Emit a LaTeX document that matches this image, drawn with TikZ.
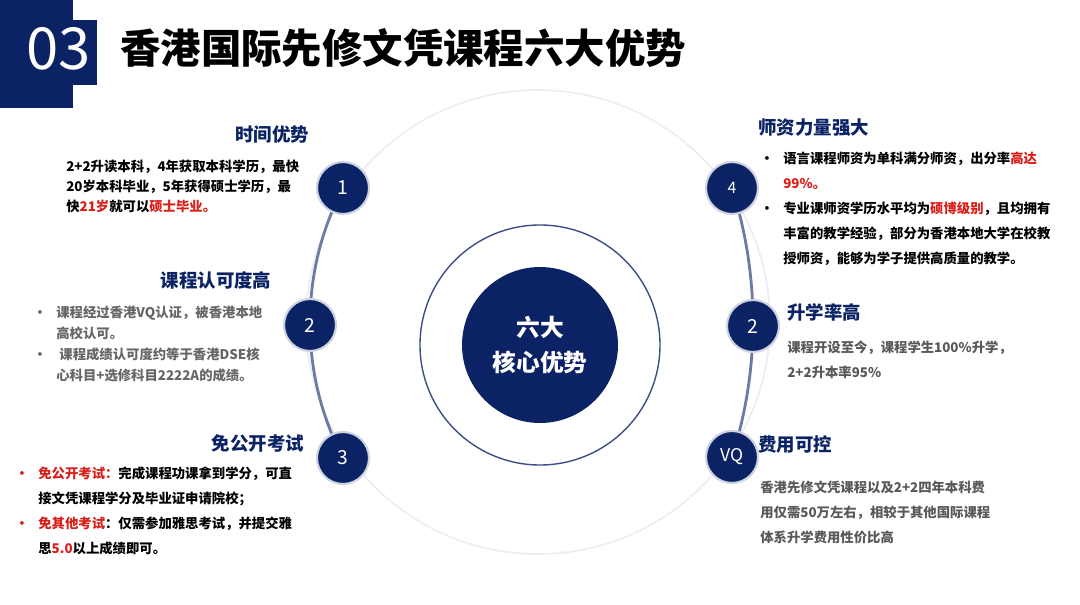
\documentclass[tikz,border=0pt]{standalone}
\usepackage{fontspec}
\setmainfont{Noto Sans CJK SC}
\usepackage{xcolor}
\usetikzlibrary{positioning, calc}
\definecolor{navy}{HTML}{0B2265}
\definecolor{hired}{HTML}{D91E18}
\definecolor{arcgray}{HTML}{ECEEF4}
\tikzstyle{numdot} = [circle, minimum size=1.04cm, inner sep=0pt, fill=navy, text=white, font=\fontsize{11}{13}\selectfont, draw=navy!20, line width=1.2pt]
\tikzstyle{head} = [inner sep=0pt, text=navy, font=\fontsize{10.5}{12}\selectfont\bfseries]
\tikzstyle{body} = [inner sep=0pt, align=left, anchor=north west, font=\fontsize{7.6}{14.2}\selectfont]
\newcommand{\hl}[1]{\textcolor{hired}{#1}}
\newcommand{\bul}[1]{\makebox[0.46cm][l]{#1}}

\begin{document}
\begin{tikzpicture}[x=0.02cm, y=-0.02cm]
\useasboundingbox (0,0) rectangle (1080,605);
% header
\fill[navy] (0,0) rectangle (73,108);
\fill[navy] (73,20) rectangle (97,85);
\node (num) [text=white, font=\fontsize{33}{35}\selectfont] at (59,49) {03};
\node (title) [anchor=west, font=\fontsize{23}{26}\selectfont\bfseries] at (114,48) {香港国际先修文凭课程六大优势};

% number dot positions
\coordinate (c1) at (343,188);
\coordinate (c2) at (310,325);
\coordinate (c3) at (343,458);
\coordinate (c4) at (732,188);
\coordinate (c5) at (753,326);
\coordinate (c6) at (732,457);
\coordinate (ctr) at (540,345);

% rings
\draw[arcgray, line width=1pt] (538,322) circle (232);
\draw[navy!60, line width=1.6pt] (c1) arc[start angle=207.5, end angle=152.5, radius=292.6];
\draw[navy!60, line width=1.6pt] (c4) arc[start angle=-17.76, end angle=17.76, radius=441];
\draw[navy!80, line width=0.8pt] (ctr) circle (120);
\node (core) [circle, fill=navy, minimum size=3.12cm, text=white, align=center, font=\fontsize{13.5}{20}\selectfont\bfseries] at (ctr) {六大\\核心优势};

\node (n1) [numdot] at (c1) {1};
\node (n2) [numdot] at (c2) {2};
\node (n3) [numdot] at (c3) {3};
\node (n4) [numdot, font=\fontsize{9}{11}\selectfont] at (c4) {4};
\node (n5) [numdot] at (c5) {2};
\node (n6) [numdot, font=\fontsize{10}{12}\selectfont] at (c6) {VQ};

% left side
\node (h1) [head] at (272,135) {时间优势};
\node (t1) [body, font=\fontsize{7.6}{11.4}\selectfont\bfseries] at (66,160) {2+2升读本科，4年获取本科学历，最快\\20岁本科毕业，5年获得硕士学历，最\\快\hl{21岁}就可以\hl{硕士毕业。}};
\node (h2) [head] at (216,280) {课程认可度高};
\node (t2) [body, text=black!60, font=\fontsize{7.6}{11.9}\selectfont\bfseries] at (33,306) {\bul{·}课程经过香港VQ认证，被香港本地\\\bul{}高校认可。\\\bul{·} 课程成绩认可度约等于香港DSE核\\\bul{}心科目+选修科目2222A的成绩。};
\node (h3) [head] at (258,443) {免公开考试};
\node (t3) [body, font=\fontsize{7.6}{14.2}\selectfont\bfseries] at (15,467) {\bul{\hl{·}}\hl{免公开考试：}完成课程功课拿到学分，可直\\\bul{}接文凭课程学分及毕业证申请院校；\\\bul{\hl{·}}\hl{免其他考试}：仅需参加雅思考试，并提交雅\\\bul{}思\hl{5.0}以上成绩即可。};

% right side
\node (h4) [head, anchor=west] at (758,128) {师资力量强大};
\node (t4) [body, font=\fontsize{7.6}{14.2}\selectfont\bfseries] at (760,152) {\bul{·}语言课程师资为单科满分师资，出分率\hl{高达}\\\bul{}\hl{99\%。}\\\bul{·}专业课师资学历水平均为\hl{硕博级别}，且均拥有\\\bul{}丰富的教学经验，部分为香港本地大学在校教\\\bul{}授师资，能够为学子提供高质量的教学。};
\node (h5) [head, anchor=west] at (787,312) {升学率高};
\node (t5) [body, text=black!65, font=\fontsize{7.6}{14.2}\selectfont\bfseries] at (787,341) {课程开设至今，课程学生100\%升学，\\2+2升本率95\%};
\node (h6) [head, anchor=west] at (758,444) {费用可控};
\node (t6) [body, text=black!65, font=\fontsize{7.6}{14.2}\selectfont\bfseries] at (760,481) {香港先修文凭课程以及2+2四年本科费\\用仅需50万左右，相较于其他国际课程\\体系升学费用性价比高};
\end{tikzpicture}
\end{document}
